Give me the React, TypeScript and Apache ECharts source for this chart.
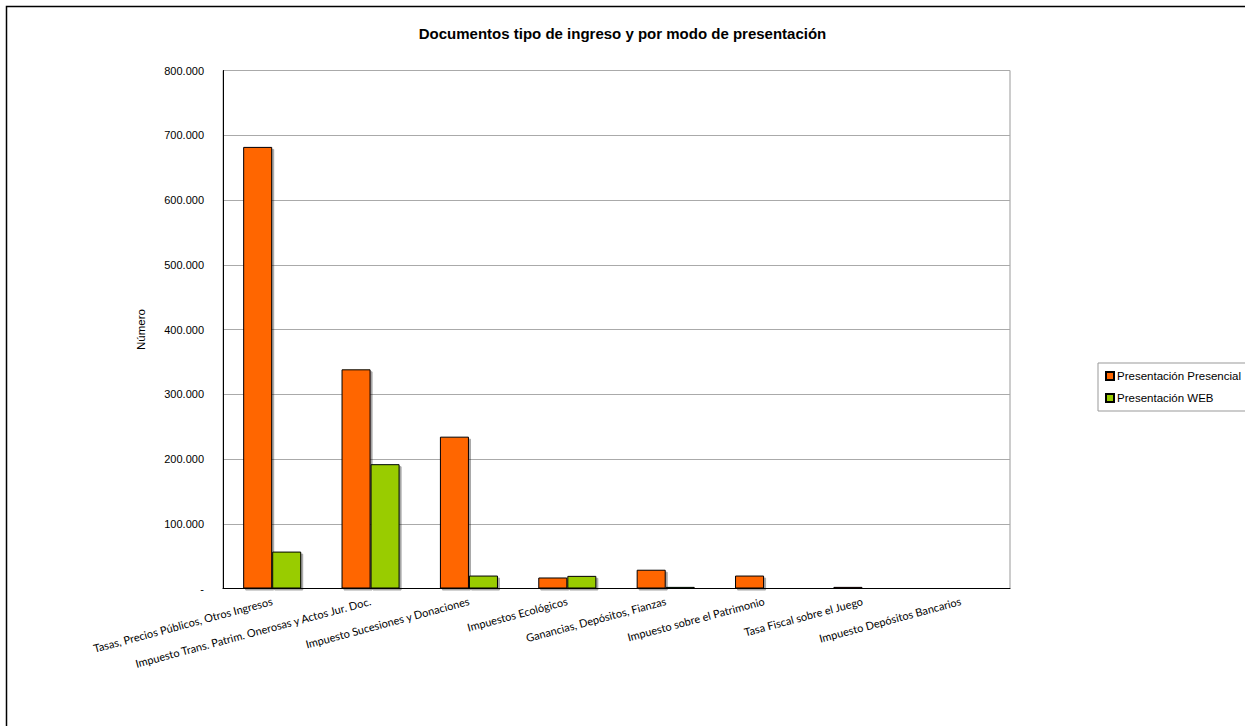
import React, { useEffect, useRef } from "react";
import * as echarts from "echarts";

const categories = [
  "Tasas, Precios Públicos, Otros Ingresos",
  "Impuesto Trans. Patrim. Onerosas y Actos Jur. Doc.",
  "Impuesto Sucesiones y Donaciones",
  "Impuestos Ecológicos",
  "Ganancias, Depósitos, Fianzas",
  "Impuesto sobre el Patrimonio",
  "Tasa Fiscal sobre el Juego",
  "Impuesto Depósitos Bancarios",
];
const presencial = [682000, 338500, 234500, 17000, 29000, 20000, 2500, 0];
const web = [57000, 192000, 20000, 19500, 2500, 0, 1000, 1000];
const seriesNames = ["Presentación Presencial", "Presentación WEB"];
const title = "Documentos tipo de ingreso y por modo de presentación";
const yAxisName = "Número";

const fmt = (v: number) =>
  v === 0 ? "-" : String(v).replace(/\B(?=(\d{3})+(?!\d))/g, ".");

export default function App() {
  const ref = useRef<HTMLDivElement>(null);
  useEffect(() => {
    if (!ref.current) return;
    const chart = echarts.init(ref.current, undefined, { renderer: "svg" });
    const sans = "'Liberation Sans', Arial, sans-serif";
    const narrow = "Lato, 'Liberation Sans', Arial, sans-serif";
    const barStyle = (color: string) => ({
      color,
      borderColor: "#000",
      borderWidth: 1,
      shadowColor: "rgba(0,0,0,0.35)",
      shadowOffsetX: 2,
      shadowOffsetY: 2,
      shadowBlur: 0,
    });
    chart.setOption({
      animation: false,
      backgroundColor: "#fff",
      textStyle: { fontFamily: sans },
      title: {
        text: title,
        left: "center",
        top: 21,
        textStyle: {
          fontFamily: sans,
          fontWeight: "bold",
          fontSize: 15,
          color: "#000",
        },
      },
      graphic: [
        {
          type: "rect",
          shape: { x: 6.5, y: 6.5, width: 1300, height: 800 },
          style: { fill: "none", stroke: "#000", lineWidth: 1.5 },
          silent: true,
        },
      ],
      legend: {
        orient: "vertical",
        left: 1098,
        top: 363,
        padding: [7, 40, 7, 7],
        borderColor: "#999",
        borderWidth: 1,
        itemWidth: 8,
        itemHeight: 8,
        itemGap: 10,
        icon: "rect",
        textStyle: {
          fontFamily: sans,
          fontSize: 11.5,
          color: "#000",
          padding: [0, 0, 0, -2],
        },
        data: seriesNames,
      },
      grid: {
        left: 223,
        right: 235,
        top: 70.5,
        bottom: 137.5,
        show: true,
        borderColor: "#999",
        borderWidth: 1,
        containLabel: false,
      },
      xAxis: {
        type: "category",
        data: categories,
        axisLine: { lineStyle: { color: "#000", width: 1 } },
        axisTick: { show: false },
        axisLabel: {
          rotate: 15,
          interval: 0,
          margin: 12,
          fontSize: 11,
          color: "#000",
          fontFamily: narrow,
        },
      },
      yAxis: {
        type: "value",
        min: 0,
        max: 800000,
        interval: 100000,
        name: yAxisName,
        nameLocation: "middle",
        nameGap: 76,
        nameTextStyle: {
          fontFamily: sans,
          fontSize: 11.5,
          color: "#000",
        },
        axisLine: { show: true, lineStyle: { color: "#000", width: 1 } },
        axisTick: { show: false },
        splitLine: { lineStyle: { color: "#aaa", width: 1 } },
        axisLabel: {
          formatter: fmt,
          margin: 19,
          fontSize: 11,
          color: "#000",
          fontFamily: sans,
        },
      },
      series: [
        {
          name: seriesNames[0],
          type: "bar",
          data: presencial,
          barGap: "0%",
          barCategoryGap: "41%",
          itemStyle: barStyle("#FF6600"),
        },
        {
          name: seriesNames[1],
          type: "bar",
          data: web,
          barGap: "0%",
          barCategoryGap: "41%",
          itemStyle: barStyle("#99CC00"),
        },
      ],
    });
    return () => chart.dispose();
  }, []);
  return (
    <div
      ref={ref}
      style={{ position: "absolute", left: 0, top: 0, width: 1245, height: 726 }}
    />
  );
}
